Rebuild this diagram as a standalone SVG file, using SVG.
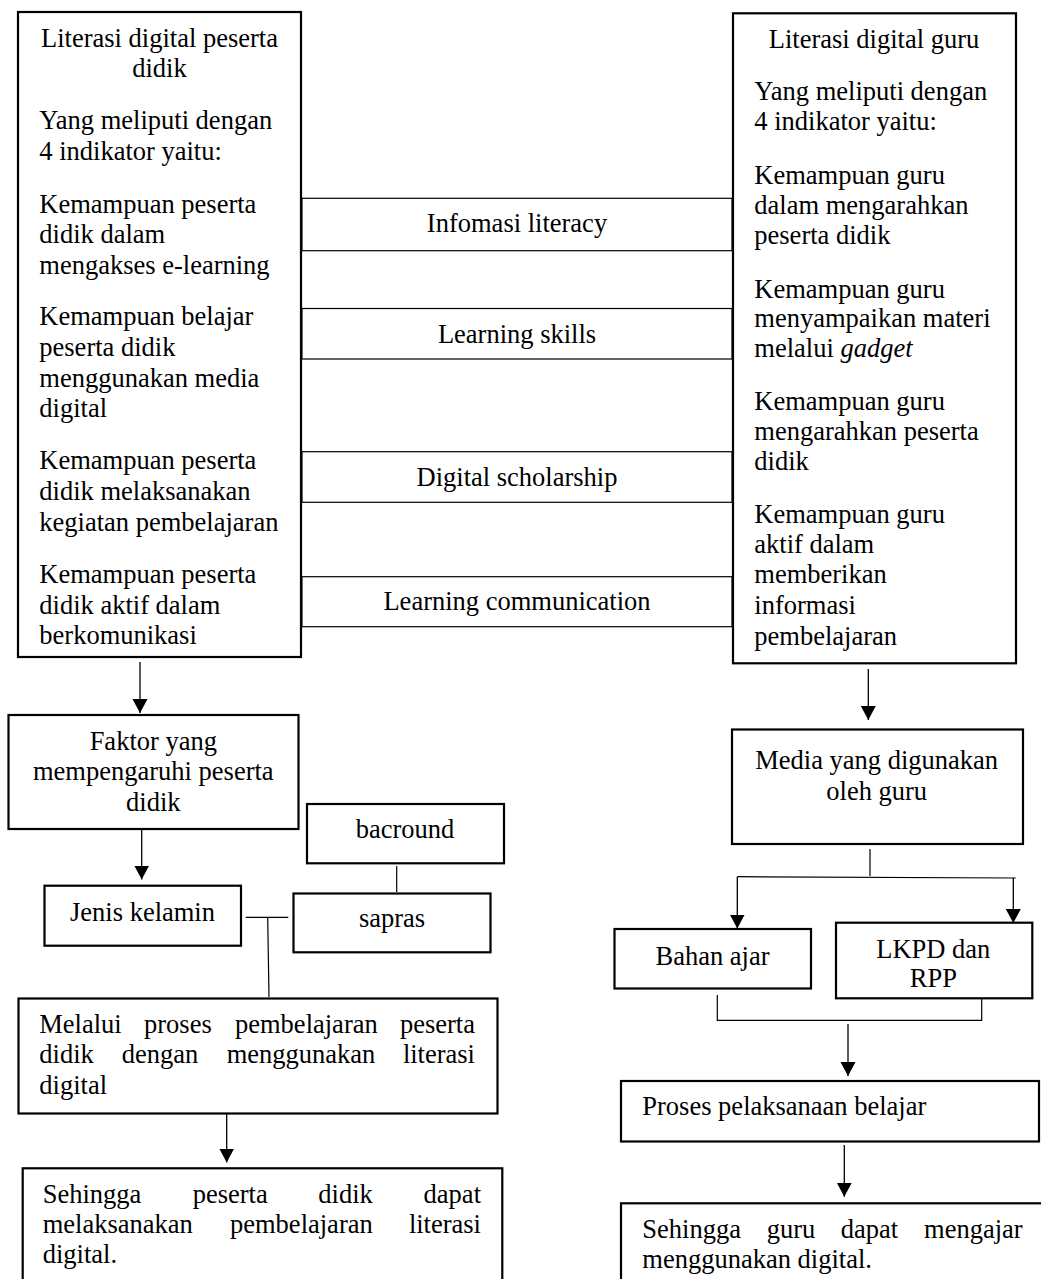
<svg xmlns="http://www.w3.org/2000/svg" width="1041" height="1279" viewBox="0 0 1041 1279">
<style>
text{font-family:"Liberation Serif","Times New Roman",serif;font-size:26.5px;fill:#000}
.c{text-anchor:middle}
.e{text-anchor:end}
.box{fill:#fff;stroke:#000;stroke-width:2.2}
.bar{fill:#fff;stroke:#000;stroke-width:1.2}
.ln{fill:none;stroke:#000;stroke-width:1.2}
.ar{fill:none;stroke:#000;stroke-width:1.3;marker-end:url(#ah)}
</style>
<defs>
<marker id="ah" markerUnits="userSpaceOnUse" markerWidth="16" markerHeight="16" refX="14" refY="7.5" orient="auto">
<path d="M0,0 L14,7.5 L0,15 z" fill="#000"/>
</marker>
</defs>
<rect width="1041" height="1279" fill="#fff"/>

<g id="connectors">
<line class="ar" x1="140" y1="662" x2="140" y2="713"/>
<line class="ar" x1="141.7" y1="829" x2="141.7" y2="879.5"/>
<line class="ln" x1="396.7" y1="866" x2="396.7" y2="892"/>
<line class="ln" x1="245.7" y1="917.3" x2="288.3" y2="917.3"/>
<line class="ln" x1="267.7" y1="917.3" x2="269" y2="997"/>
<line class="ar" x1="226.7" y1="1113" x2="226.7" y2="1162.5"/>
<line class="ar" x1="868.3" y1="669" x2="868.3" y2="720"/>
<line class="ln" x1="870" y1="849" x2="870" y2="876"/>
<line class="ln" x1="737.3" y1="876.7" x2="1015.7" y2="878"/>
<line class="ar" x1="737.3" y1="876.7" x2="737.3" y2="928.5"/>
<line class="ar" x1="1013.3" y1="878" x2="1013.3" y2="923"/>
<polyline class="ln" points="717.3,995 717.3,1020.3 981.7,1020.3 981.7,993.3"/>
<line class="ar" x1="848" y1="1024" x2="848" y2="1076"/>
<line class="ar" x1="844.3" y1="1145" x2="844.3" y2="1196.7"/>
</g>

<g id="node-literasi-peserta">
<rect class="box" x="18" y="12" width="283" height="645"/>
<text class="c" x="159.5" y="46.7">Literasi digital peserta</text>
<text class="c" x="159.5" y="77.3">didik</text>
<text x="39.3" y="129.3">Yang meliputi dengan</text>
<text x="39.3" y="159.5">4 indikator yaitu:</text>
<text x="39.3" y="212.7">Kemampuan peserta</text>
<text x="39.3" y="243.3">didik dalam</text>
<text x="39.3" y="273.5">mengakses e-learning</text>
<text x="39.3" y="325">Kemampuan belajar</text>
<text x="39.3" y="355.5">peserta didik</text>
<text x="39.3" y="386.5">menggunakan media</text>
<text x="39.3" y="417.3">digital</text>
<text x="39.3" y="469.3">Kemampuan peserta</text>
<text x="39.3" y="500">didik melaksanakan</text>
<text x="39.3" y="530.7">kegiatan pembelajaran</text>
<text x="39.3" y="583.3">Kemampuan peserta</text>
<text x="39.3" y="613.5">didik aktif dalam</text>
<text x="39.3" y="644">berkomunikasi</text>
</g>

<g id="node-infomasi">
<rect class="bar" x="302" y="198.3" width="430" height="52.4"/>
<text class="c" x="517" y="231.7">Infomasi literacy</text>
</g>
<g id="node-learning-skills">
<rect class="bar" x="302" y="308.5" width="430" height="50.5"/>
<text class="c" x="517" y="342.5">Learning skills</text>
</g>
<g id="node-digital-scholarship">
<rect class="bar" x="302" y="451.7" width="430" height="50.6"/>
<text class="c" x="517" y="485.7">Digital scholarship</text>
</g>
<g id="node-learning-communication">
<rect class="bar" x="302" y="576.7" width="430" height="50"/>
<text class="c" x="517" y="610">Learning communication</text>
</g>

<g id="node-literasi-guru">
<rect class="box" x="733" y="13.3" width="283" height="650"/>
<text class="c" x="874" y="48.3">Literasi digital guru</text>
<text x="754.3" y="100">Yang meliputi dengan</text>
<text x="754.3" y="130">4 indikator yaitu:</text>
<text x="754.3" y="184.3">Kemampuan guru</text>
<text x="754.3" y="213.5">dalam mengarahkan</text>
<text x="754.3" y="244.3">peserta didik</text>
<text x="754.3" y="297.7">Kemampuan guru</text>
<text x="754.3" y="326.7">menyampaikan materi</text>
<text x="754.3" y="357.3">melalui <tspan font-style="italic">gadget</tspan></text>
<text x="754.3" y="410">Kemampuan guru</text>
<text x="754.3" y="440">mengarahkan peserta</text>
<text x="754.3" y="470">didik</text>
<text x="754.3" y="523.3">Kemampuan guru</text>
<text x="754.3" y="553.3">aktif dalam</text>
<text x="754.3" y="583.3">memberikan</text>
<text x="754.3" y="614">informasi</text>
<text x="754.3" y="645">pembelajaran</text>
</g>

<g id="node-faktor">
<rect class="box" x="8.5" y="715" width="290" height="114"/>
<text class="c" x="153.3" y="750">Faktor yang</text>
<text class="c" x="153.3" y="780">mempengaruhi peserta</text>
<text class="c" x="153.3" y="810.7">didik</text>
</g>

<g id="node-bacround">
<rect class="box" x="307" y="804" width="197" height="59.3"/>
<text class="c" x="405" y="838.3">bacround</text>
</g>

<g id="node-jenis-kelamin">
<rect class="box" x="44.5" y="885.7" width="196.5" height="60"/>
<text class="c" x="142.5" y="920.7">Jenis kelamin</text>
</g>

<g id="node-sapras">
<rect class="box" x="293.5" y="893.5" width="197" height="58.8"/>
<text class="c" x="392" y="927.3">sapras</text>
</g>

<g id="node-melalui">
<rect class="box" x="18.5" y="998.5" width="479" height="115"/>
<text x="39.3" y="1033.3">Melalui</text>
<text x="144" y="1033.3">proses</text>
<text x="235" y="1033.3">pembelajaran</text>
<text class="e" x="475" y="1033.3">peserta</text>
<text x="39.3" y="1063.3">didik</text>
<text x="121.7" y="1063.3">dengan</text>
<text x="226.7" y="1063.3">menggunakan</text>
<text class="e" x="475" y="1063.3">literasi</text>
<text x="39.3" y="1094">digital</text>
</g>

<g id="node-sehingga-peserta">
<rect class="box" x="22.7" y="1168.3" width="479.6" height="130"/>
<text x="42.7" y="1203.3">Sehingga</text>
<text x="192.7" y="1203.3">peserta</text>
<text x="318.3" y="1203.3">didik</text>
<text class="e" x="481" y="1203.3">dapat</text>
<text x="42.7" y="1233.3">melaksanakan</text>
<text x="230" y="1233.3">pembelajaran</text>
<text class="e" x="481" y="1233.3">literasi</text>
<text x="42.7" y="1263.3">digital.</text>
</g>

<g id="node-media">
<rect class="box" x="732" y="729.5" width="291" height="114.5"/>
<text class="c" x="876.7" y="769.3">Media yang digunakan</text>
<text class="c" x="876.7" y="800">oleh guru</text>
</g>

<g id="node-bahan-ajar">
<rect class="box" x="614.5" y="929" width="196.5" height="59.5"/>
<text class="c" x="712.5" y="965">Bahan ajar</text>
</g>

<g id="node-lkpd">
<rect class="box" x="836" y="922.7" width="196.3" height="75.6"/>
<text class="c" x="933.3" y="957.7">LKPD dan</text>
<text class="c" x="933.3" y="986.7">RPP</text>
</g>

<g id="node-proses">
<rect class="box" x="621" y="1081" width="418" height="60.5"/>
<text x="642.3" y="1115">Proses pelaksanaan belajar</text>
</g>

<g id="node-sehingga-guru">
<rect class="box" x="621" y="1203.3" width="440" height="100"/>
<text x="642.3" y="1238.3">Sehingga</text>
<text x="766.7" y="1238.3">guru</text>
<text x="840.7" y="1238.3">dapat</text>
<text class="e" x="1022.7" y="1238.3">mengajar</text>
<text x="642.3" y="1268.3">menggunakan digital.</text>
</g>
</svg>
